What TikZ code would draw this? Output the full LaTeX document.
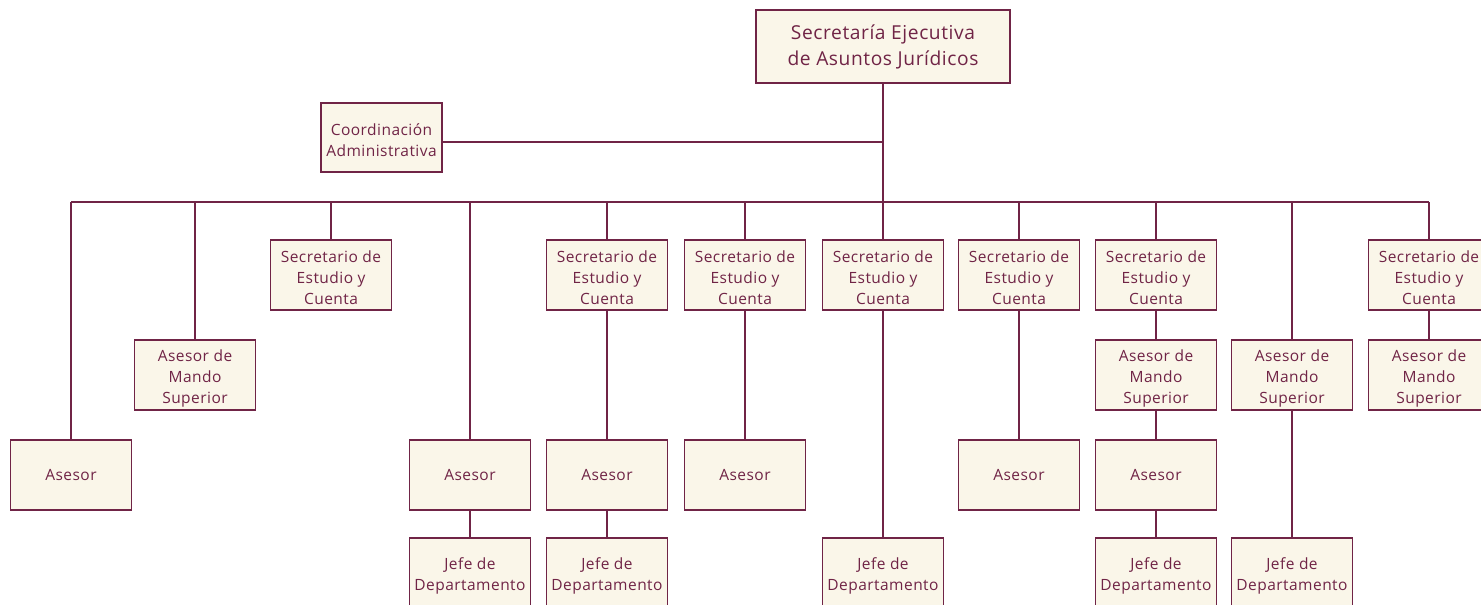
\documentclass[tikz,border=0pt]{standalone}
\usepackage{fontspec}
\setmainfont[LetterSpace=3]{Open Sans}
\definecolor{maroon}{RGB}{112,36,70}
\definecolor{cream}{RGB}{250,246,233}
\newcommand\dn{\rule{0pt}{18pt}}
\tikzset{
  box/.style={draw=maroon, fill=cream, line width=1.4pt, text=maroon, align=center,
    minimum width=121pt, minimum height=70pt, inner sep=0pt,
    font=\fontsize{15.5}{21}\selectfont},
  topbox/.style={box, minimum width=254pt, minimum height=73pt,
    font=\fontsize{19.2}{26}\selectfont},
  conn/.style={draw=maroon, line width=1.4pt},
}
\begin{document}
\begin{tikzpicture}[x=1pt,y=-1pt]
\useasboundingbox[fill=white] (0,0) rectangle (1481,605);
% top
\node[topbox] (top) at (883,46.5) {Secretaría Ejecutiva\\de Asuntos Jurídicos};
\node[box, minimum height=69pt] (coord) at (381.5,137.5) {\dn Coordinación\\Administrativa};
\coordinate (cj) at (442,142);
% bar coordinates
\foreach \i/\x in {1/71,2/195,3/331,4/470,5/607,6/745,7/883,8/1019,9/1156,10/1292,11/1429}
  \coordinate (b\i) at (\x,202);
% column 1
\node[box] (c1a) at (71,475) {Asesor};
% column 2
\node[box] (c2a) at (195,375) {\dn Asesor de\\Mando\\Superior};
% column 3
\node[box] (c3a) at (331,275) {\dn Secretario de\\Estudio y\\Cuenta};
% column 4
\node[box] (c4a) at (470,475) {Asesor};
\node[box] (c4b) at (470,573) {\dn Jefe de\\Departamento};
% column 5
\node[box] (c5a) at (607,275) {\dn Secretario de\\Estudio y\\Cuenta};
\node[box] (c5b) at (607,475) {Asesor};
\node[box] (c5c) at (607,573) {\dn Jefe de\\Departamento};
% column 6
\node[box] (c6a) at (745,275) {\dn Secretario de\\Estudio y\\Cuenta};
\node[box] (c6b) at (745,475) {Asesor};
% column 7
\node[box] (c7a) at (883,275) {\dn Secretario de\\Estudio y\\Cuenta};
\node[box] (c7b) at (883,573) {\dn Jefe de\\Departamento};
% column 8
\node[box] (c8a) at (1019,275) {\dn Secretario de\\Estudio y\\Cuenta};
\node[box] (c8b) at (1019,475) {Asesor};
% column 9
\node[box] (c9a) at (1156,275) {\dn Secretario de\\Estudio y\\Cuenta};
\node[box] (c9b) at (1156,375) {\dn Asesor de\\Mando\\Superior};
\node[box] (c9c) at (1156,475) {Asesor};
\node[box] (c9d) at (1156,573) {\dn Jefe de\\Departamento};
% column 10
\node[box] (c10a) at (1292,375) {\dn Asesor de\\Mando\\Superior};
\node[box] (c10b) at (1292,573) {\dn Jefe de\\Departamento};
% column 11
\node[box] (c11a) at (1429,275) {\dn Secretario de\\Estudio y\\Cuenta};
\node[box] (c11b) at (1429,375) {\dn Asesor de\\Mando\\Superior};
% connectors
\draw[conn] (top.south) -- (c7a.north);
\draw[conn] (cj) -- (cj -| top.south);
\draw[conn] (b1) -- (b11);
\draw[conn] (b1) -- (c1a.north);
\draw[conn] (b2) -- (c2a.north);
\draw[conn] (b3) -- (c3a.north);
\draw[conn] (b4) -- (c4a.north);
\draw[conn] (c4a) -- (c4b);
\draw[conn] (b5) -- (c5a.north);
\draw[conn] (c5a) -- (c5b);
\draw[conn] (c5b) -- (c5c);
\draw[conn] (b6) -- (c6a.north);
\draw[conn] (c6a) -- (c6b);
\draw[conn] (c7a) -- (c7b);
\draw[conn] (b8) -- (c8a.north);
\draw[conn] (c8a) -- (c8b);
\draw[conn] (b9) -- (c9a.north);
\draw[conn] (c9a) -- (c9b);
\draw[conn] (c9b) -- (c9c);
\draw[conn] (c9c) -- (c9d);
\draw[conn] (b10) -- (c10a.north);
\draw[conn] (c10a) -- (c10b);
\draw[conn] (b11) -- (c11a.north);
\draw[conn] (c11a) -- (c11b);
\end{tikzpicture}
\end{document}
